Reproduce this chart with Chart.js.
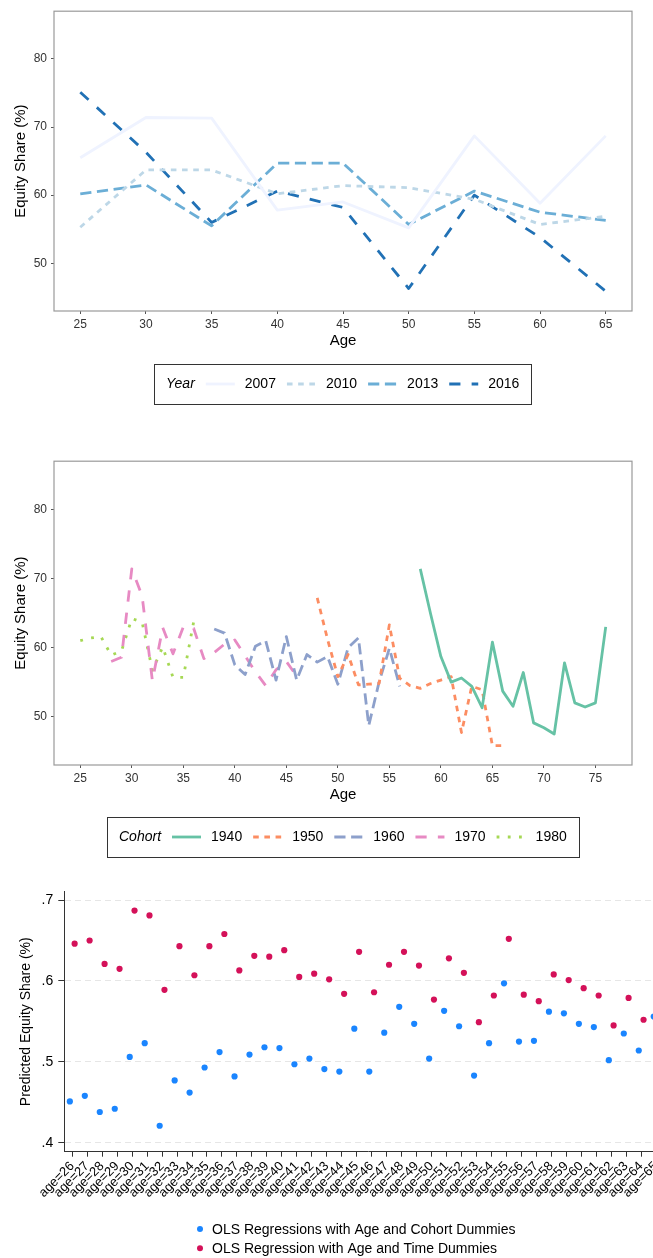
<!DOCTYPE html>
<html>
<head>
<meta charset="utf-8">
<script src="https://cdn.jsdelivr.net/npm/chart.js@4.4.1/dist/chart.umd.min.js"></script>
<style>
  html, body { margin: 0; padding: 0; background: #fff; overflow: hidden; }
  .panel { position: absolute; left: 0; }
</style>
</head>
<body>
<div class="panel" style="top:0px"><canvas id="yearChart" width="653" height="410"></canvas></div>
<div class="panel" style="top:450px"><canvas id="cohortChart" width="653" height="420"></canvas></div>
<div class="panel" style="top:870px"><canvas id="olsChart" width="690" height="388"></canvas></div>
<script>
const FONT = '"Liberation Sans", Arial, Helvetica, sans-serif';
Chart.defaults.font.family = FONT;
Chart.defaults.color = '#333';

// --- chart 1: equity share by survey year
const surveyAges = [25, 30, 35, 40, 45, 50, 55, 60, 65];
const share2007 = [65.5, 71.4, 71.3, 57.8, 59.0, 55.2, 68.7, 58.8, 68.7];
const share2010 = [55.3, 63.7, 63.7, 60.2, 61.4, 61.1, 59.4, 55.7, 56.9];
const share2013 = [60.2, 61.5, 55.5, 64.7, 64.7, 55.7, 60.6, 57.5, 56.3];
const share2016 = [75.1, 66.3, 56.0, 60.6, 58.2, 46.3, 60.0, 53.8, 45.9];
const yearLabels = ['2007', '2010', '2013', '2016'];
const yearColors = ['#eff3ff', '#bdd7e7', '#6baed6', '#2171b5'];
const yearTicksX = [25, 30, 35, 40, 45, 50, 55, 60, 65];
const shareTicks = [50, 60, 70, 80];

// --- chart 2: equity share by birth cohort
const cohortLabels = ['1940', '1950', '1960', '1970', '1980'];
const cohortFirstAge = [58, 48, 38, 28, 25];
const share1940 = [71.4, 64.9, 58.7, 55.0, 55.6, 54.4, 51.3, 60.8, 53.7, 51.5, 56.4, 49.1, 48.4, 47.5, 57.8, 52.0, 51.4, 52.0, 63.0];
const share1950 = [67.2, 61.2, 55.8, 59.0, 54.6, 54.7, 54.8, 63.3, 55.6, 54.5, 54.1, 54.8, 55.3, 55.8, 47.7, 54.4, 53.9, 45.8, 45.8];
const share1960 = [62.7, 62.1, 57.5, 56.1, 60.2, 61.0, 55.3, 61.6, 55.3, 59.0, 57.9, 58.7, 54.7, 60.0, 61.4, 48.7, 55.0, 59.9, 54.4];
const share1970 = [58.0, 58.6, 71.4, 67.5, 55.2, 62.9, 59.1, 63.0, 62.8, 58.4, 59.3, 60.5, 61.1, 58.8, 56.5, 54.5, 56.8, 58.0, 55.9];
const share1980 = [61.0, 61.4, 61.6, 58.9, 59.5, 64.2, 63.7, 56.7, 60.1, 55.7, 55.7, 63.7];
const cohortColors = ['#66c2a5', '#fc8d62', '#8da0cb', '#e78ac3', '#a6d854'];
const cohortTicksX = [25, 30, 35, 40, 45, 50, 55, 60, 65, 70, 75];

// --- chart 3: predicted shares from the two regressions
const dummyAges = [26, 27, 28, 29, 30, 31, 32, 33, 34, 35, 36, 37, 38, 39, 40, 41, 42, 43, 44, 45,
                   46, 47, 48, 49, 50, 51, 52, 53, 54, 55, 56, 57, 58, 59, 60, 61, 62, 63, 64, 65];
const cohortModel = [0.451, 0.458, 0.438, 0.442, 0.506, 0.523, 0.421, 0.477, 0.462, 0.493,
                     0.512, 0.482, 0.509, 0.518, 0.517, 0.497, 0.504, 0.491, 0.488, 0.541,
                     0.488, 0.536, 0.568, 0.547, 0.504, 0.563, 0.544, 0.483, 0.523, 0.597,
                     0.525, 0.526, 0.562, 0.560, 0.547, 0.543, 0.502, 0.535, 0.514, 0.556];
const timeModel = [0.646, 0.650, 0.621, 0.615, 0.687, 0.681, 0.589, 0.643, 0.607, 0.643,
                   0.658, 0.613, 0.631, 0.630, 0.638, 0.605, 0.609, 0.602, 0.584, 0.636,
                   0.586, 0.620, 0.636, 0.619, 0.577, 0.628, 0.610, 0.549, 0.582, 0.652,
                   0.583, 0.575, 0.608, 0.601, 0.591, 0.582, 0.545, 0.579, 0.552];
const modelLabels = ['OLS Regressions with Age and Cohort Dummies', 'OLS Regression with Age and Time Dummies'];
const modelColors = ['#1a85ff', '#d41159'];
const predTicks = [0.4, 0.5, 0.6, 0.7];

const LW = 2.8;
const yearTypes = ['solid', '22', '42', '44'];
const cohortTypes = ['solid', '22', '42', '44', '13'];

function dashFor(code) {
    if (code === 'solid') return [];
    return code.split('').map(d => parseInt(d, 16) * LW);
}

// ggplot style panel border
const panelBox = {
    id: 'panelBox',
    afterDatasetsDraw(chart) {
        const a = chart.chartArea, ctx = chart.ctx;
        ctx.save();
        ctx.strokeStyle = '#9a9a9a';
        ctx.lineWidth = 1.2;
        ctx.strokeRect(a.left, a.top, a.right - a.left, a.bottom - a.top);
        ctx.restore();
    }
};

// boxed legend with title on the left
const boxLegend = {
    id: 'boxLegend',
    afterDraw(chart, args, opts) {
        if (!opts.title) return;
        const ctx = chart.ctx;
        const sets = chart.data.datasets;
        const keyW = 29, gapKey = 10, gapItem = 11, pad = 12, h = 40;
        ctx.save();
        ctx.font = 'italic 14px ' + FONT;
        const titleW = ctx.measureText(opts.title).width;
        ctx.font = '14px ' + FONT;
        let w = pad + titleW;
        sets.forEach(ds => { w += gapItem + keyW + gapKey + ctx.measureText(ds.label).width; });
        w += pad;
        const a = chart.chartArea;
        let x = Math.round((a.left + a.right) / 2 - w / 2);
        const y = opts.y;
        ctx.strokeStyle = '#333';
        ctx.lineWidth = 1;
        ctx.strokeRect(x + 0.5, Math.round(y - h / 2) + 0.5, Math.round(w), h);
        ctx.fillStyle = '#000';
        ctx.textBaseline = 'middle';
        ctx.font = 'italic 14px ' + FONT;
        x += pad;
        ctx.fillText(opts.title, x, y);
        x += titleW;
        ctx.font = '14px ' + FONT;
        sets.forEach(ds => {
            x += gapItem;
            ctx.save();
            ctx.strokeStyle = ds.borderColor;
            ctx.lineWidth = ds.borderWidth;
            ctx.lineCap = 'butt';
            ctx.setLineDash(ds.borderDash || []);
            ctx.beginPath();
            ctx.moveTo(x, y);
            ctx.lineTo(x + keyW, y);
            ctx.stroke();
            ctx.restore();
            x += keyW + gapKey;
            ctx.fillText(ds.label, x, y);
            x += ctx.measureText(ds.label).width;
        });
        ctx.restore();
    }
};

// stata style legend under the plot
const dotLegend = {
    id: 'dotLegend',
    afterDraw(chart, args, opts) {
        if (!opts.x) return;
        const ctx = chart.ctx;
        ctx.save();
        ctx.font = '14px ' + FONT;
        ctx.textBaseline = 'middle';
        chart.data.datasets.forEach((ds, i) => {
            const y = opts.y + i * opts.rowGap;
            ctx.fillStyle = ds.backgroundColor;
            ctx.beginPath();
            ctx.arc(opts.x, y, 3, 0, Math.PI * 2);
            ctx.fill();
            ctx.fillStyle = '#000';
            ctx.fillText(ds.label, opts.x + 12, y + 1);
        });
        ctx.restore();
    }
};

function ggAxes(xMin, xMax, xTicks) {
    return {
        x: {
            type: 'linear', min: xMin, max: xMax,
            afterBuildTicks: s => { s.ticks = xTicks.map(v => ({ value: v })); },
            afterFit: s => { s.height = 45; },
            ticks: { font: { size: 12 }, color: '#333', padding: 3, maxRotation: 0, autoSkip: false },
            grid: { drawOnChartArea: false, drawTicks: true, tickLength: 3, color: '#555', lineWidth: 1 },
            border: { display: false },
            title: { display: true, text: 'Age', color: '#000', font: { size: 15 }, padding: { top: 0, bottom: 6 } }
        },
        y: {
            type: 'linear', min: 43, max: 87,
            afterBuildTicks: s => { s.ticks = shareTicks.map(v => ({ value: v })); },
            afterFit: s => { s.width = 54; },
            ticks: { font: { size: 12 }, color: '#333', padding: 4 },
            grid: { drawOnChartArea: false, drawTicks: true, tickLength: 3, color: '#555', lineWidth: 1 },
            border: { display: false },
            title: { display: true, text: 'Equity Share (%)', color: '#000', font: { size: 15 }, padding: { top: 12, bottom: 0 } }
        }
    };
}

function lineSet(label, color, type, xs, ys) {
    return {
        label: label,
        data: ys.map((v, i) => ({ x: xs[i], y: v })),
        borderColor: color,
        backgroundColor: color,
        borderWidth: LW,
        borderDash: dashFor(type),
        borderCapStyle: 'butt',
        borderJoinStyle: 'round',
        pointRadius: 0,
        tension: 0,
        fill: false
    };
}

const yearSeries = [share2007, share2010, share2013, share2016];
const yearChart = new Chart('yearChart', {
    type: 'line',
    data: {
        datasets: yearSeries.map((s, i) => lineSet(yearLabels[i], yearColors[i], yearTypes[i], surveyAges, s))
    },
    options: {
        responsive: false, animation: false, devicePixelRatio: 1,
        layout: { padding: { left: 0, top: 5, right: 21, bottom: 54 } },
        plugins: { legend: { display: false }, tooltip: { enabled: false }, boxLegend: { title: 'Year', y: 384 } },
        scales: ggAxes(23, 67, yearTicksX)
    },
    plugins: [panelBox, boxLegend]
});

const cohortSeries = [share1940, share1950, share1960, share1970, share1980];
const cohortChart = new Chart('cohortChart', {
    type: 'line',
    data: {
        datasets: cohortSeries.map((s, i) => {
            const ages = s.map((v, j) => cohortFirstAge[i] + j);
            return lineSet(cohortLabels[i], cohortColors[i], cohortTypes[i], ages, s);
        })
    },
    options: {
        responsive: false, animation: false, devicePixelRatio: 1,
        layout: { padding: { left: 0, top: 9, right: 21, bottom: 60 } },
        plugins: { legend: { display: false }, tooltip: { enabled: false }, boxLegend: { title: 'Cohort', y: 387 } },
        scales: ggAxes(22.45, 78.55, cohortTicksX)
    },
    plugins: [panelBox, boxLegend]
});

const olsChart = new Chart('olsChart', {
    type: 'scatter',
    data: {
        datasets: [
            {
                label: modelLabels[0],
                data: cohortModel.map((v, i) => ({ x: i - 0.16, y: v })),
                backgroundColor: modelColors[0],
                pointRadius: 3.1, pointBorderWidth: 0
            },
            {
                label: modelLabels[1],
                data: timeModel.map((v, i) => ({ x: i + 0.16, y: v })),
                backgroundColor: modelColors[1],
                pointRadius: 3.1, pointBorderWidth: 0
            }
        ]
    },
    options: {
        responsive: false, animation: false, devicePixelRatio: 1,
        layout: { padding: { left: 0, top: 21.7, right: 18, bottom: 46.3 } },
        plugins: { legend: { display: false }, tooltip: { enabled: false }, dotLegend: { x: 200, y: 359, rowGap: 19.3 } },
        scales: {
            x: {
                type: 'linear', min: -0.53, max: 40.06,
                afterBuildTicks: s => { s.ticks = dummyAges.map((a, i) => ({ value: i })); },
                afterFit: s => { s.height = 60; },
                ticks: {
                    font: { size: 13 }, color: '#000', padding: 2, autoSkip: false,
                    maxRotation: 45, minRotation: 45,
                    callback: (v, i) => 'age=' + dummyAges[i]
                },
                grid: { drawOnChartArea: false, drawTicks: true, tickLength: 5, color: '#333', lineWidth: 1 },
                border: { display: true, color: '#333', width: 1 }
            },
            y: {
                type: 'linear', min: 0.3889, max: 0.7103,
                afterBuildTicks: s => { s.ticks = predTicks.map(v => ({ value: v })); },
                afterFit: s => { s.width = 64.3; },
                ticks: {
                    font: { size: 14 }, color: '#000', padding: 5,
                    callback: v => v.toFixed(1).replace(/^0/, '')
                },
                grid: { drawOnChartArea: true, drawTicks: true, tickLength: 6, color: '#e6e6e6', tickColor: '#333', lineWidth: 1 },
                border: { display: true, color: '#333', width: 1, dash: [6, 4] },
                title: { display: true, text: 'Predicted Equity Share (%)', color: '#000', font: { size: 14 }, padding: { top: 18, bottom: 0 } }
            }
        }
    },
    plugins: [dotLegend]
});
</script>
</body>
</html>
